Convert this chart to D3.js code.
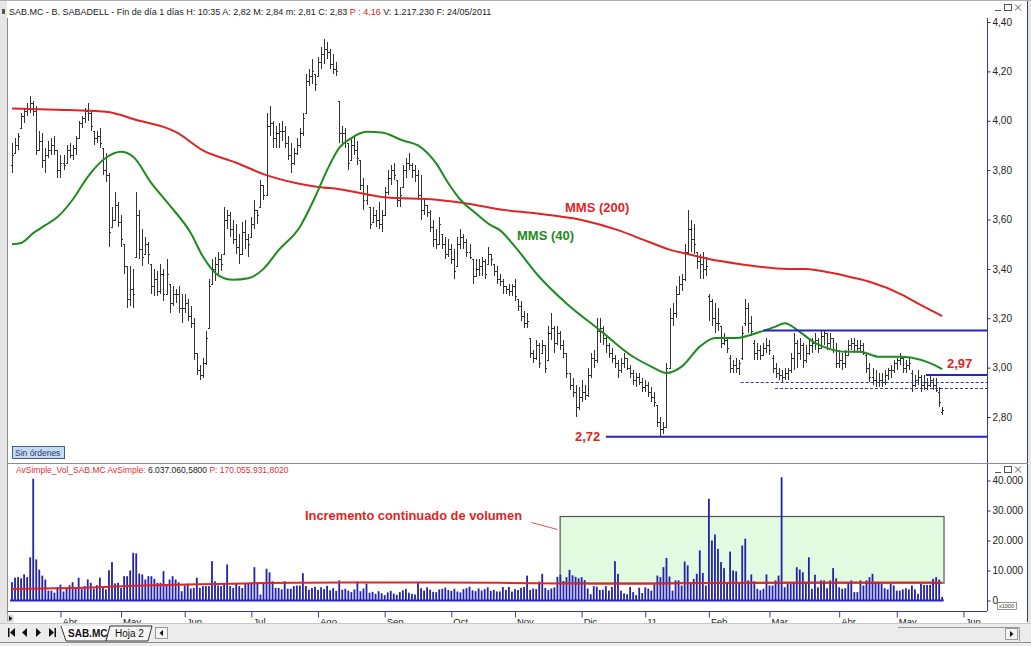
<!DOCTYPE html>
<html><head><meta charset="utf-8">
<script src="https://cdn.jsdelivr.net/npm/d3@7"></script>
<style>
body{margin:0;background:#fff;}
svg{display:block;font-family:"Liberation Sans",Arial,sans-serif;}
</style></head>
<body><svg id="chart" width="1031" height="646"></svg>
<script>
// ---------------- DATA ----------------
const monthLabels = ["Abr","May","Jun","Jul","Ago","Sep","Oct","Nov","Dic","11","Feb","Mar","Abr","May","Jun"];
const monthStarts = [16,36,57,79,101,123,145,166,188,209,230,250,273,292,314];
const priceTicks = [2.8,3.0,3.2,3.4,3.6,3.8,4.0,4.2,4.4];
const volumeTicks = [0,10,20,30,40];

const opens = [
3.82,3.86,3.90,3.94,4.02,4.04,4.05,4.07,4.04,3.88, 3.92,3.84,3.86,3.88,3.90,3.88,3.80,3.83,3.82,3.88,
3.86,3.89,3.93,3.99,4.01,4.04,4.03,3.98,3.93,3.94, 3.91,3.80,3.78,3.55,3.60,3.66,3.59,3.52,3.41,3.28,
3.32,3.30,3.62,3.48,3.45,3.50,3.46,3.33,3.36,3.31, 3.38,3.30,3.38,3.26,3.30,3.30,3.24,3.24,3.26,3.21,
3.18,3.06,2.99,2.97,3.02,3.12,3.33,3.40,3.42,3.44, 3.42,3.60,3.62,3.56,3.52,3.49,3.46,3.55,3.52,3.50,
3.58,3.64,3.62,3.74,3.70,3.98,3.99,3.93,3.95,3.96, 3.96,3.91,3.86,3.83,3.87,3.90,3.95,4.01,4.16,4.18,
4.20,4.15,4.24,4.27,4.29,4.28,4.23,4.21,4.20,3.95, 3.95,3.92,3.83,3.90,3.88,3.85,3.74,3.68,3.70,3.58,
3.62,3.60,3.58,3.62,3.71,3.77,3.80,3.78,3.68,3.70, 3.80,3.83,3.82,3.80,3.78,3.70,3.64,3.66,3.63,3.57,
3.52,3.50,3.58,3.50,3.46,3.48,3.44,3.39,3.50,3.53, 3.51,3.47,3.45,3.37,3.40,3.41,3.43,3.38,3.46,3.44,
3.39,3.36,3.35,3.33,3.32,3.31,3.33,3.29,3.25,3.21, 3.18,3.19,3.06,3.04,3.09,3.02,3.09,3.00,3.14,3.16,
3.10,3.14,3.09,3.06,2.98,2.93,2.90,2.84,2.88,2.90, 2.89,2.97,3.04,3.03,3.15,3.16,3.12,3.09,3.06,3.04,
3.02,2.99,3.02,3.04,3.00,2.98,2.95,2.96,2.94,2.92, 2.93,2.90,2.88,2.86,2.78,2.75,2.76,3.00,3.20,3.22,
3.30,3.34,3.36,3.47,3.56,3.52,3.50,3.43,3.42,3.40, 3.29,3.27,3.20,3.18,3.17,3.10,3.11,3.04,3.00,3.01,
3.00,3.04,3.18,3.24,3.18,3.10,3.06,3.07,3.05,3.08, 3.09,3.04,3.00,2.98,2.97,2.96,2.98,2.99,3.04,3.10,
3.06,3.09,3.03,3.06,3.09,3.10,3.11,3.08,3.13,3.14, 3.10,3.12,3.07,3.02,3.03,3.02,3.05,3.09,3.10,3.09,
3.08,3.09,3.05,3.00,2.96,2.95,2.94,2.95,2.94,2.97, 2.99,2.99,3.02,3.03,3.04,3.00,3.01,2.98,2.93,2.95,
2.96,2.93,2.94,2.93,2.95,2.93,2.90,2.82];

const highs = [
3.91,3.93,3.95,4.03,4.05,4.07,4.10,4.08,4.06,3.96, 3.95,3.89,3.92,3.93,3.94,3.88,3.86,3.86,3.90,3.91,
3.90,3.94,4.00,4.02,4.05,4.07,4.04,3.96,3.96,3.97, 3.89,3.87,3.79,3.65,3.71,3.67,3.62,3.50,3.41,3.41,
3.40,3.71,3.64,3.56,3.53,3.51,3.42,3.40,3.39,3.42, 3.40,3.44,3.34,3.33,3.32,3.33,3.30,3.30,3.28,3.25,
3.20,3.06,3.01,3.04,3.15,3.36,3.44,3.45,3.47,3.46, 3.65,3.64,3.63,3.60,3.58,3.54,3.59,3.60,3.54,3.61,
3.68,3.64,3.76,3.74,4.03,4.06,4.00,3.98,3.99,4.00, 3.98,3.94,3.91,3.89,3.93,3.97,4.03,4.19,4.21,4.25,
4.19,4.26,4.30,4.33,4.32,4.29,4.27,4.24,4.08,3.98, 3.97,3.91,3.93,3.94,3.92,3.84,3.77,3.74,3.65,3.65,
3.64,3.67,3.64,3.73,3.80,3.82,3.83,3.76,3.73,3.82, 3.85,3.87,3.83,3.82,3.80,3.78,3.68,3.66,3.64,3.60,
3.56,3.61,3.54,3.53,3.52,3.50,3.48,3.53,3.56,3.54, 3.52,3.50,3.44,3.44,3.44,3.45,3.44,3.49,3.46,3.42,
3.41,3.38,3.36,3.33,3.34,3.34,3.36,3.28,3.27,3.23, 3.22,3.12,3.07,3.11,3.10,3.11,3.09,3.17,3.22,3.17,
3.17,3.15,3.11,3.06,2.98,2.96,2.93,2.92,2.95,2.93, 3.00,3.06,3.07,3.20,3.20,3.17,3.13,3.10,3.08,3.05,
3.03,3.04,3.06,3.04,3.01,2.99,2.98,2.98,2.96,2.95, 2.94,2.92,2.90,2.85,2.80,2.78,3.02,3.24,3.26,3.33,
3.37,3.38,3.50,3.64,3.60,3.58,3.47,3.46,3.47,3.45, 3.30,3.28,3.26,3.24,3.17,3.14,3.12,3.05,3.03,3.04,
3.03,3.17,3.28,3.26,3.21,3.11,3.10,3.09,3.10,3.12, 3.11,3.05,3.02,3.00,2.99,3.00,3.00,3.06,3.14,3.11,
3.12,3.10,3.09,3.11,3.12,3.14,3.12,3.15,3.15,3.14, 3.14,3.12,3.10,3.07,3.06,3.07,3.11,3.12,3.12,3.11,
3.11,3.10,3.06,3.02,3.00,2.99,2.98,2.98,2.99,3.00, 3.01,3.03,3.04,3.06,3.04,3.03,3.04,2.99,2.97,2.99,
2.97,2.97,2.96,2.97,2.96,2.96,2.92,2.84];

const lows = [
3.79,3.87,3.88,3.97,3.99,4.02,4.03,4.02,3.86,3.88, 3.81,3.79,3.85,3.86,3.86,3.77,3.77,3.80,3.83,3.85,
3.84,3.86,3.93,3.97,3.99,4.00,3.96,3.90,3.91,3.89, 3.78,3.75,3.49,3.57,3.60,3.57,3.49,3.38,3.24,3.25,
3.24,3.45,3.44,3.41,3.46,3.42,3.30,3.29,3.29,3.30, 3.27,3.30,3.22,3.25,3.26,3.22,3.18,3.22,3.19,3.16,
3.03,2.97,2.95,2.96,3.01,3.16,3.34,3.35,3.38,3.39, 3.46,3.56,3.53,3.50,3.46,3.42,3.46,3.48,3.45,3.53,
3.56,3.58,3.65,3.68,3.70,3.94,3.89,3.89,3.89,3.92, 3.89,3.84,3.79,3.82,3.86,3.89,3.94,4.03,4.14,4.15,
4.12,4.18,4.21,4.23,4.25,4.21,4.19,4.18,3.91,3.90, 3.89,3.80,3.84,3.86,3.82,3.72,3.64,3.66,3.56,3.59,
3.57,3.56,3.55,3.62,3.70,3.74,3.76,3.65,3.65,3.73, 3.77,3.80,3.77,3.75,3.68,3.60,3.62,3.61,3.55,3.49,
3.48,3.50,3.48,3.44,3.45,3.42,3.36,3.41,3.48,3.48, 3.45,3.44,3.34,3.37,3.37,3.37,3.36,3.42,3.41,3.37,
3.34,3.33,3.30,3.30,3.29,3.29,3.27,3.23,3.19,3.16, 3.16,3.04,3.02,3.03,3.00,3.06,2.98,3.03,3.11,3.06,
3.09,3.07,3.04,2.96,2.91,2.88,2.80,2.83,2.86,2.87, 2.88,2.96,3.00,3.02,3.10,3.09,3.06,3.04,3.02,3.00,
2.96,2.98,3.00,2.99,2.96,2.93,2.92,2.93,2.90,2.90, 2.88,2.86,2.84,2.76,2.72,2.73,2.76,3.00,3.17,3.20,
3.30,3.31,3.35,3.46,3.47,3.46,3.40,3.36,3.36,3.37, 3.19,3.17,3.14,3.15,3.08,3.09,3.06,2.98,2.98,2.98,
2.97,3.03,3.17,3.14,3.13,3.03,3.03,3.03,3.05,3.06, 3.05,2.98,2.96,2.95,2.94,2.95,2.95,2.98,2.99,3.00,
3.03,3.00,3.02,3.05,3.06,3.07,3.06,3.08,3.09,3.07, 3.08,3.06,3.00,3.00,2.99,3.00,3.05,3.07,3.06,3.06,
3.06,3.05,2.98,2.94,2.93,2.92,2.92,2.92,2.93,2.95, 2.96,2.98,2.99,3.01,2.98,2.98,2.99,2.90,2.92,2.93,
2.90,2.91,2.91,2.92,2.91,2.90,2.84,2.81];

const closes = [
3.86,3.90,3.94,4.02,4.04,4.05,4.07,4.04,3.88,3.92, 3.84,3.86,3.88,3.90,3.88,3.80,3.83,3.82,3.88,3.86,
3.89,3.93,3.99,4.01,4.04,4.03,3.98,3.93,3.94,3.91, 3.80,3.78,3.55,3.60,3.66,3.59,3.52,3.41,3.28,3.32,
3.30,3.62,3.48,3.45,3.50,3.46,3.33,3.36,3.31,3.38, 3.30,3.38,3.26,3.30,3.30,3.24,3.24,3.26,3.21,3.18,
3.06,2.99,2.97,3.02,3.12,3.33,3.40,3.42,3.44,3.42, 3.60,3.62,3.56,3.52,3.49,3.46,3.55,3.52,3.50,3.58,
3.64,3.62,3.74,3.70,3.98,3.99,3.93,3.95,3.96,3.96, 3.91,3.86,3.83,3.87,3.90,3.95,4.01,4.16,4.18,4.20,
4.15,4.24,4.27,4.29,4.28,4.23,4.21,4.20,3.95,3.95, 3.92,3.83,3.90,3.88,3.85,3.74,3.68,3.70,3.58,3.62,
3.60,3.58,3.62,3.71,3.77,3.80,3.78,3.68,3.70,3.80, 3.83,3.82,3.80,3.78,3.70,3.64,3.66,3.63,3.57,3.52,
3.50,3.58,3.50,3.46,3.48,3.44,3.39,3.50,3.53,3.51, 3.47,3.45,3.37,3.40,3.41,3.43,3.38,3.46,3.44,3.39,
3.36,3.35,3.33,3.32,3.31,3.33,3.29,3.25,3.21,3.18, 3.19,3.06,3.04,3.09,3.02,3.09,3.00,3.14,3.16,3.10,
3.14,3.09,3.06,2.98,2.93,2.90,2.84,2.88,2.90,2.89, 2.97,3.04,3.03,3.15,3.16,3.12,3.09,3.06,3.04,3.02,
2.99,3.02,3.04,3.00,2.98,2.95,2.96,2.94,2.92,2.93, 2.90,2.88,2.86,2.78,2.75,2.76,3.00,3.20,3.22,3.30,
3.34,3.36,3.47,3.56,3.52,3.50,3.43,3.42,3.40,3.41, 3.27,3.20,3.18,3.18,3.10,3.11,3.08,3.00,3.01,3.00,
3.02,3.14,3.24,3.18,3.15,3.06,3.07,3.05,3.08,3.09, 3.07,3.00,2.98,2.97,2.96,2.98,2.99,3.04,3.10,3.06,
3.09,3.03,3.06,3.09,3.10,3.11,3.08,3.13,3.14,3.10, 3.12,3.07,3.02,3.03,3.02,3.05,3.09,3.10,3.09,3.08,
3.09,3.06,3.00,2.96,2.95,2.94,2.95,2.94,2.97,2.99, 2.99,3.02,3.03,3.04,3.00,3.01,3.02,2.93,2.95,2.96,
2.93,2.94,2.93,2.95,2.93,2.91,2.86,2.83];

// volume in thousands of shares
const volumes = [
6.1,7.6,7.8,7.4,8.7,7.8,14.4,40.6,13.7,10.3, 8.3,7.0,3.3,3.3,2.6,4.4,5.3,3.0,3.9,5.1,
6.1,3.9,7.6,3.9,4.8,7.0,5.9,3.9,5.1,7.6, 4.2,3.7,10.1,12.8,5.7,5.9,4.2,8.1,8.1,10.0,
15.9,15.7,9.0,8.7,7.0,8.1,8.1,7.2,5.9,5.9, 9.8,5.3,7.0,8.1,7.0,6.1,3.1,5.0,5.6,4.0,
4.2,7.6,4.2,4.8,4.8,4.8,13.1,6.4,5.0,4.8, 5.7,12.0,4.8,4.2,5.6,4.8,4.2,5.7,5.9,6.1,
11.1,6.1,2.0,5.7,10.6,9.4,6.4,4.2,4.2,3.7, 6.4,3.9,3.9,4.8,5.0,5.0,9.1,4.8,3.6,4.2,
4.6,3.5,4.4,3.8,4.9,3.4,4.1,3.2,6.7,3.6, 3.9,3.3,2.8,3.7,6.3,3.1,4.0,5.6,2.6,2.9,
2.2,3.1,2.4,1.8,2.7,3.2,2.3,1.9,2.8,3.4, 3.9,2.6,2.2,2.0,6.1,4.1,3.3,4.4,3.6,2.9,
2.8,3.7,3.9,4.3,3.5,3.2,3.9,3.0,2.7,3.8, 4.1,4.6,3.4,3.1,4.0,3.3,3.8,4.4,3.2,3.5,
3.0,3.0,4.5,3.5,4.5,3.0,3.8,3.5,4.2,4.5, 8.3,3.5,4.0,3.8,6.3,8.9,4.2,3.5,4.0,4.4,
7.9,8.6,6.5,7.8,10.2,8.4,7.9,7.4,7.8,6.8, 4.0,2.1,4.8,4.6,3.5,3.6,4.8,3.3,4.5,13.1,
8.9,3.3,2.4,2.1,4.5,2.8,1.8,4.3,2.5,4.4, 4.0,3.3,5.4,8.3,7.8,11.1,14.2,8.0,3.3,6.7,
6.7,5.0,13.0,11.7,5.6,7.2,8.9,16.7,9.2,5.0, 33.9,20.0,22.0,17.2,12.8,10.8,5.6,16.3,10.0,9.7,
5.6,18.3,20.6,6.7,8.7,6.4,3.9,3.4,3.9,8.7, 5.0,5.0,6.7,8.3,41.1,4.4,5.6,5.6,6.1,11.1,
10.3,9.4,6.1,14.4,3.9,8.6,4.4,6.7,6.7,4.1, 6.7,10.8,7.4,4.4,3.9,4.1,6.1,6.7,2.8,2.8,
6.7,5.0,6.7,7.8,8.9,6.1,6.1,5.6,4.1,3.7, 5.6,5.0,3.3,3.3,3.7,4.1,3.7,5.0,3.7,2.2,
5.6,5.2,5.2,5.2,7.2,7.8,7.0,1.2];

// moving averages: [bar index, value]
const mms200 = [[0,4.05],[15,4.045],[31,4.036],[42,4.00],[50,3.975],[54,3.955],[63,3.88],[74,3.83],[83,3.784],
[94,3.747],[101,3.732],[108,3.723],[123,3.69],[140,3.68],[150,3.665],[163,3.638],[172,3.626],[188,3.598],
[200,3.557],[210,3.51],[217,3.478],[223,3.46],[230,3.44],[240,3.42],[256,3.40],[262,3.40],[270,3.385],
[277,3.366],[283,3.348],[294,3.294],[300,3.253],[307,3.209]];
const mms40 = [[0,3.50],[3,3.505],[7,3.545],[11,3.577],[15,3.61],[20,3.68],[25,3.773],[31,3.85],[36,3.874],[40,3.854],
[46,3.747],[52,3.658],[59,3.545],[63,3.45],[68,3.375],[73,3.356],[78,3.362],[83,3.40],[88,3.476],[95,3.57],
[100,3.69],[104,3.80],[108,3.89],[112,3.93],[117,3.955],[122,3.952],[129,3.92],[134,3.90],[140,3.827],[144,3.747],
[148,3.68],[153,3.626],[158,3.577],[161,3.557],[166,3.49],[174,3.368],[183,3.26],[194,3.152],[205,3.044],
[211,3.004],[216,2.978],[221,3.004],[227,3.085],[232,3.12],[239,3.12],[247,3.145],[252,3.166],[255,3.18],
[260,3.145],[265,3.10],[270,3.075],[275,3.064],[280,3.064],[286,3.044],[293,3.044],[297,3.04],[303,3.018],[307,2.994]];
const volAvg = [[0,3.8],[10,4.0],[22,4.2],[40,4.9],[51,5.2],[62,5.4],[73,5.6],[84,5.8],[95,5.9],[117,6.0],
[139,6.0],[161,5.9],[180,5.7],[194,5.6],[210,5.6],[227,5.8],[260,6.0],[307,6.04]];

// annotations: [start bar index, price]
const solidLevels = [[248,3.15],[196,2.72],[301.6,2.97]];
const dashedLevels = [[240.5,2.942],[251.8,2.917]];
const volBox = {from:180.9, to:307.6, top:28, bottom:5.8};

// ---------------- DRAW ----------------
const svg = d3.select("#chart");
const W = 1031, H = 646;
const plotL = 8, plotR = 987;
const mainTop = 19, mainBot = 462, volTop = 464, volBot = 611;

const x = d3.scaleLinear().domain([0,307]).range([12, 942.2]);
const yP = d3.scaleLinear().domain([2.80,4.40]).range([417,22]);
const yV = d3.scaleLinear().domain([0,40]).range([600.5,480.5]);
const xMaxIdx = x.invert(plotR);

svg.append("rect").attr("width",W).attr("height",H).attr("fill","#fff");

const defs = svg.append("defs");
defs.append("clipPath").attr("id","cm").append("rect").attr("x",plotL).attr("y",mainTop).attr("width",plotR-plotL).attr("height",mainBot-mainTop);
defs.append("clipPath").attr("id","cv").append("rect").attr("x",plotL).attr("y",volTop).attr("width",plotR-plotL).attr("height",volBot-volTop);

// frame
svg.append("rect").attr("x",0).attr("y",0).attr("width",7).attr("height",H).attr("fill","#e6e6e6");
svg.append("line").attr("x1",7.5).attr("x2",7.5).attr("y1",18).attr("y2",622).attr("stroke","#8c8c8c");
svg.append("rect").attr("x",1028).attr("y",0).attr("width",3).attr("height",H).attr("fill","#e6e6e6");
svg.append("line").attr("x1",1027.5).attr("x2",1027.5).attr("y1",0).attr("y2",622).attr("stroke","#3a3a8a");
svg.append("line").attr("x1",0).attr("x2",W).attr("y1",0.5).attr("y2",0.5).attr("stroke","#b0b0b0");
svg.append("line").attr("x1",plotR+0.5).attr("x2",plotR+0.5).attr("y1",18).attr("y2",volBot).attr("stroke","#3a3a8a");
svg.append("line").attr("x1",7).attr("x2",1028).attr("y1",463.5).attr("y2",463.5).attr("stroke","#8c8c8c");

// header
const hdr = svg.append("text").attr("x",9).attr("y",15).attr("font-size",9).attr("fill","#222");
hdr.append("tspan").text("SAB.MC - B. SABADELL - Fin de día 1 días  H: 10:35  A: 2,82  M: 2,84  m: 2,81  C: 2,83  ");
hdr.append("tspan").attr("fill","#e02020").text("P : 4,16");
hdr.append("tspan").text("  V: 1.217.230  F: 24/05/2011");
svg.append("rect").attr("x",2).attr("y",9).attr("width",3).attr("height",5).attr("fill","#555");

function winButtons(y){
  const g = svg.append("g").attr("stroke","#555").attr("fill","none");
  g.append("line").attr("x1",995).attr("x2",1001).attr("y1",y+7.5).attr("y2",y+7.5);
  g.append("rect").attr("x",1004.5).attr("y",y+1.5).attr("width",7).attr("height",6);
  g.append("line").attr("x1",1015).attr("x2",1021).attr("y1",y+1.5).attr("y2",y+7.5);
  g.append("line").attr("x1",1021).attr("x2",1015).attr("y1",y+1.5).attr("y2",y+7.5);
}
winButtons(3); winButtons(465);

// ---- main panel ----
const gm = svg.append("g").attr("clip-path","url(#cm)");
const gBars = gm.append("g").attr("stroke","#333").attr("stroke-width",1).attr("shape-rendering","crispEdges");
const idx = d3.range(closes.length);
const clamp = (v,lo,hi)=>Math.max(lo,Math.min(hi,v));
idx.forEach(i=>{
  const cx = Math.round(x(i))+0.5;
  gBars.append("line").attr("x1",cx).attr("x2",cx).attr("y1",yP(highs[i])).attr("y2",yP(lows[i]));
  const yo = Math.round(yP(clamp(opens[i],lows[i],highs[i])))+0.5;
  const yc = Math.round(yP(closes[i]))+0.5;
  gBars.append("line").attr("x1",cx-1.5).attr("x2",cx).attr("y1",yo).attr("y2",yo);
  gBars.append("line").attr("x1",cx).attr("x2",cx+1.5).attr("y1",yc).attr("y2",yc);
});

const maLine = d3.line().x(d=>x(d[0])).y(d=>yP(d[1])).curve(d3.curveMonotoneX);
gm.append("path").attr("d",maLine(mms200)).attr("fill","none").attr("stroke","#e02424").attr("stroke-width",2);
gm.append("path").attr("d",maLine(mms40)).attr("fill","none").attr("stroke","#1f8a1f").attr("stroke-width",2);

solidLevels.forEach(d=>{
  gm.append("line").attr("x1",x(d[0])).attr("x2",x(xMaxIdx)).attr("y1",yP(d[1])).attr("y2",yP(d[1]))
    .attr("stroke","#2424c8").attr("stroke-width",2);
});
dashedLevels.forEach(d=>{
  gm.append("line").attr("x1",x(d[0])).attr("x2",x(xMaxIdx)).attr("y1",Math.round(yP(d[1]))+0.5).attr("y2",Math.round(yP(d[1]))+0.5)
    .attr("stroke","#3030c0").attr("stroke-width",1).attr("stroke-dasharray","3,2");
});

const ann = svg.append("g").attr("font-weight","bold").attr("font-size",13);
ann.append("text").attr("x",565).attr("y",212).attr("fill","#e02424").text("MMS (200)");
ann.append("text").attr("x",517).attr("y",240).attr("fill","#1f8a1f").text("MMS (40)");
ann.append("text").attr("x",575).attr("y",441).attr("fill","#e02424").text("2,72");
ann.append("text").attr("x",947).attr("y",367.5).attr("fill","#e02424").text("2,97");

// Sin órdenes button
svg.append("rect").attr("x",12.5).attr("y",446.5).attr("width",52).attr("height",12).attr("fill","#c6daf2").attr("stroke","#3d5f8f");
svg.append("text").attr("x",15).attr("y",455.8).attr("font-size",8.5).attr("fill","#1d3a70").text("Sin órdenes");

// price axis
const fmtP = d=>d.toFixed(2).replace(".",",");
const ap = svg.append("g").attr("transform",`translate(${plotR+0.5},0)`)
  .call(d3.axisRight(yP).tickValues(priceTicks).tickFormat(fmtP).tickSize(3).tickPadding(2));
ap.select(".domain").remove();
ap.selectAll("line").attr("stroke","#333");
ap.selectAll("text").attr("font-size",10).attr("fill","#222").attr("font-family","Liberation Sans, Arial, sans-serif");

// ---- volume panel ----
const vh = svg.append("text").attr("x",16).attr("y",472.5).attr("font-size",8.5).attr("fill","#e03030");
vh.append("tspan").text("AvSimple_Vol_SAB.MC  AvSimple: ");
vh.append("tspan").attr("fill","#222").text("6.037.060,5800");
vh.append("tspan").text("  P: 170.055.931,8020");

const gv = svg.append("g").attr("clip-path","url(#cv)");
gv.append("rect").attr("x",x(volBox.from)).attr("y",yV(volBox.top)).attr("width",x(volBox.to)-x(volBox.from))
  .attr("height",yV(volBox.bottom)-yV(volBox.top)).attr("fill","#e2fbe0").attr("stroke","#555").attr("stroke-width",1.2);
gv.append("g").attr("fill","#2222aa").selectAll("rect").data(idx).join("rect")
  .attr("x",i=>x(i)-0.9).attr("width",1.8).attr("y",i=>yV(volumes[i])).attr("height",i=>yV(0)-yV(volumes[i]));
gv.append("line").attr("x1",x(0)-2).attr("x2",x(307)+1.5).attr("y1",yV(0)).attr("y2",yV(0)).attr("stroke","#2424c8").attr("stroke-width",2);
const avLine = d3.line().x(d=>x(d[0])).y(d=>yV(d[1])).curve(d3.curveMonotoneX);
gv.append("path").attr("d",avLine(volAvg)).attr("fill","none").attr("stroke","#e02424").attr("stroke-width",2);

svg.append("text").attr("x",305).attr("y",520).attr("font-size",12).attr("font-weight","bold").attr("fill","#e02424")
  .attr("textLength",217).attr("lengthAdjust","spacingAndGlyphs").text("Incremento continuado de volumen");
svg.append("line").attr("x1",531.5).attr("y1",522.5).attr("x2",557.5).attr("y2",529.5).attr("stroke","#e05050").attr("stroke-width",1);

// volume axis
const loc = d3.formatLocale({decimal:",",thousands:".",grouping:[3],currency:["","€"]});
const fmtV = loc.format(",");
const av = svg.append("g").attr("transform",`translate(${plotR+0.5},0)`)
  .call(d3.axisRight(yV).tickValues(volumeTicks).tickFormat(d=>fmtV(d*1000)).tickSize(3).tickPadding(2));
av.select(".domain").remove();
av.selectAll("line").attr("stroke","#333");
av.selectAll("text").attr("font-size",10).attr("fill","#222").attr("font-family","Liberation Sans, Arial, sans-serif");
svg.append("rect").attr("x",997.5).attr("y",602.5).attr("width",19).attr("height",7).attr("fill","#fff").attr("stroke","#666").attr("stroke-width",0.7);
svg.append("text").attr("x",999).attr("y",608.3).attr("font-size",5.5).attr("fill","#333").text("x1000");

// ---- time axis ----
svg.append("line").attr("x1",plotL).attr("x2",plotR).attr("y1",611.5).attr("y2",611.5).attr("stroke","#3a3a8a");
const ax = svg.append("g").attr("transform","translate(0,611.5)")
  .call(d3.axisBottom(x).tickValues(monthStarts).tickFormat((d,i)=>monthLabels[i]).tickSize(6));
ax.select(".domain").remove();
ax.selectAll("line").attr("stroke","#3a3a8a");
ax.selectAll("text").attr("text-anchor","start").attr("x",1.5).attr("y",13.5).attr("dy",null)
  .attr("font-size",9.5).attr("fill","#222").attr("font-family","Liberation Sans, Arial, sans-serif");

// bottom tab bar
svg.append("rect").attr("x",0).attr("y",623).attr("width",W).attr("height",23).attr("fill","#ececec");
svg.append("line").attr("x1",0).attr("x2",W).attr("y1",623.5).attr("y2",623.5).attr("stroke","#c8c8c8");
svg.append("line").attr("x1",0).attr("x2",W).attr("y1",642.5).attr("y2",642.5).attr("stroke","#8c8c8c");
// small left arrow box
svg.append("rect").attr("x",7.5).attr("y",614.5).attr("width",6).attr("height",8).attr("fill","#d8d8d8");
svg.append("path").attr("d","M9,616 L12.5,618.5 L9,621 Z").attr("fill","#111");
const nav = svg.append("g").attr("fill","#111");
nav.append("rect").attr("x",8).attr("y",628).attr("width",1.5).attr("height",9);
nav.append("path").attr("d","M15,628 L10,632.5 L15,637 Z");
nav.append("path").attr("d","M27,628 L22,632.5 L27,637 Z");
nav.append("path").attr("d","M36,628 L41,632.5 L36,637 Z");
nav.append("path").attr("d","M49,628 L54,632.5 L49,637 Z");
nav.append("rect").attr("x",54.5).attr("y",628).attr("width",1.5).attr("height",9);
svg.append("path").attr("d","M61,626 L66,641 L106,641 L110,626").attr("fill","#fff").attr("stroke","#333");
svg.append("text").attr("x",68).attr("y",637).attr("font-size",10).attr("font-weight","bold").attr("fill","#111").text("SAB.MC");
svg.append("path").attr("d","M110,626 L106,641 L148,641 L152,626 Z").attr("fill","#f4f4f4").attr("stroke","#333");
svg.append("text").attr("x",115).attr("y",637).attr("font-size",10).attr("fill","#111").text("Hoja 2");
svg.append("rect").attr("x",155.5).attr("y",627.5).attr("width",12).attr("height",11).attr("fill","#f4f4f4").attr("stroke","#999");
svg.append("path").attr("d","M163,630 L159.5,633 L163,636 Z").attr("fill","#111");
// bottom right scrollbar
svg.append("path").attr("d","M898,627.5 L1019.5,627.5 L1019.5,641").attr("fill","none").attr("stroke","#999");
svg.append("rect").attr("x",1005.5).attr("y",628.5).attr("width",12).attr("height",11).attr("fill","#f4f4f4").attr("stroke","#999");
svg.append("path").attr("d","M1010,631 L1013.5,634 L1010,637 Z").attr("fill","#111");
</script>
</body></html>
